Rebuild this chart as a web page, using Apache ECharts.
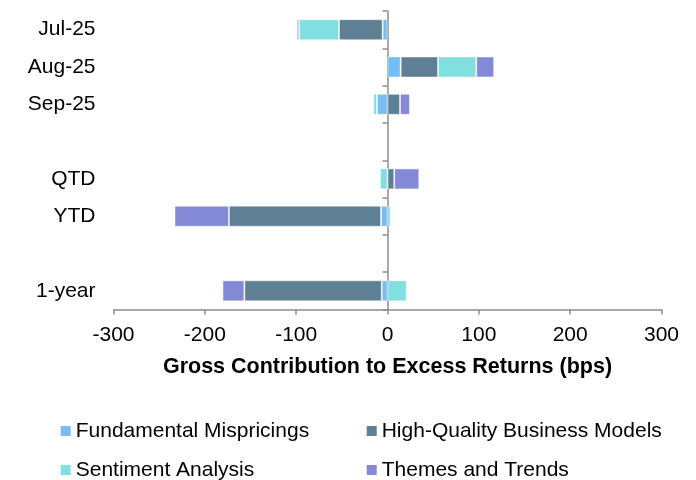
<!DOCTYPE html>
<html>
<head>
<meta charset="utf-8">
<script src="https://cdn.jsdelivr.net/npm/echarts@6/dist/echarts.min.js"></script>
<style>html,body{margin:0;padding:0;background:#fff;}#c{width:696px;height:480px;}</style>
</head>
<body>
<div id="c"></div>
<script>
var categories = ['Jul-25', 'Aug-25', 'Sep-25', ' ', 'QTD', 'YTD', '  ', '1-year'];
var fundamental = [-5.3, 14.4, -11.5, null, 0, -7.1, null, -6.3];
var highQuality = [-47.8, 40.9, 13.7, null, 7.4, -166.5, null, -150.4];
var sentiment = [-43.7, 41.9, -4, null, -8.2, 3.5, null, 21];
var themes = [-2.5, 19.6, 10.9, null, 27.4, -59.6, null, -24];
var xTicks = [-300, -200, -100, 0, 100, 200, 300];

var FONT = 'Liberation Sans, Arial, sans-serif';
var chart = echarts.init(document.getElementById('c'));
function s(name, data, color) {
  return {
    name: name, type: 'bar', stack: 'total', data: data, barWidth: 21,
    itemStyle: { color: color, borderColor: 'rgba(255,255,255,0.45)', borderWidth: 1 },
    emphasis: { disabled: true }
  };
}
function legend(names, left) {
  return {
    data: names, orient: 'vertical', left: left, top: 420.5, height: 100, padding: 0, itemGap: 18,
    itemWidth: 10, itemHeight: 10, icon: 'rect', itemStyle: { borderWidth: 0 },
    textStyle: { fontSize: 21, color: '#000', fontFamily: FONT }
  };
}
chart.setOption({
  animation: false,
  textStyle: { fontFamily: FONT },
  grid: { left: 113.5, right: 34.5, top: 11, bottom: 170.5, containLabel: false },
  xAxis: {
    type: 'value', min: xTicks[0], max: xTicks[xTicks.length - 1], interval: 100,
    splitLine: { show: false },
    axisLine: { show: true, onZero: false, lineStyle: { color: '#8c8c8c', width: 1.5 } },
    axisTick: { show: true, length: 5, lineStyle: { color: '#8c8c8c', width: 1.5 } },
    axisLabel: { fontSize: 21, color: '#000', margin: 15, fontFamily: FONT },
    name: 'Gross Contribution to Excess Returns (bps)',
    nameLocation: 'middle', nameGap: 47,
    nameTextStyle: { fontSize: 21.5, fontWeight: 'bold', color: '#000', fontFamily: FONT }
  },
  yAxis: [{
    type: 'category', data: categories, inverse: true,
    axisLine: { show: false, onZero: false }, axisTick: { show: false },
    axisLabel: { fontSize: 21, color: '#000', margin: 18, fontFamily: FONT }
  }, {
    type: 'category', data: categories, inverse: true, position: 'left',
    axisLine: { show: true, onZero: true, lineStyle: { color: '#8c8c8c', width: 1.5 } },
    axisTick: { show: true, length: 5, lineStyle: { color: '#8c8c8c', width: 1.5 } },
    axisLabel: { show: false }
  }],
  legend: [
    legend(['Fundamental Mispricings', 'Sentiment Analysis'], 60.7),
    legend(['High-Quality Business Models', 'Themes and Trends'], 366.7)
  ],
  series: [
    s('Fundamental Mispricings', fundamental, '#76bdf6'),
    s('High-Quality Business Models', highQuality, '#5e7f94'),
    s('Sentiment Analysis', sentiment, '#80dfe1'),
    s('Themes and Trends', themes, '#8489d6')
  ]
});
</script>
</body>
</html>
